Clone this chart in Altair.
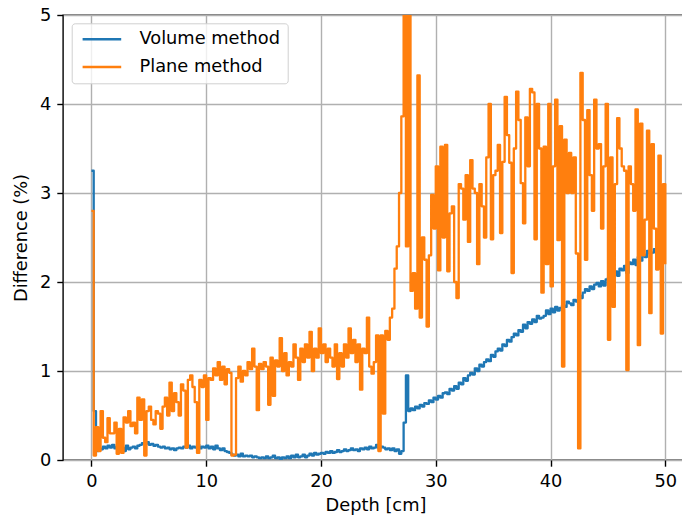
import altair as alt
import pandas as pd

# Depth sampling step (cm)
STEP = 0.2

volume_method = [
    3.25, 0.55, 0.10, 0.13, 0.12, 0.15, 0.13, 0.16, 0.14, 0.17,
    0.13, 0.15, 0.12, 0.14, 0.10, 0.16, 0.12, 0.14, 0.15, 0.13,
    0.16, 0.17, 0.19, 0.18, 0.20, 0.17, 0.18, 0.16, 0.17, 0.15,
    0.14, 0.15, 0.13, 0.14, 0.12, 0.13, 0.11, 0.13, 0.14, 0.13,
    0.15, 0.14, 0.16, 0.13, 0.15, 0.14, 0.17, 0.13, 0.15, 0.14,
    0.16, 0.13, 0.15, 0.12, 0.16, 0.13, 0.11, 0.13, 0.10, 0.09,
    0.08, 0.06, 0.05, 0.06, 0.04, 0.07, 0.04, 0.05, 0.04, 0.05,
    0.03, 0.04, 0.03, 0.02, 0.03, 0.02, 0.04, 0.02, 0.03, 0.05,
    0.02, 0.03, 0.01, 0.03, 0.02, 0.04, 0.02, 0.05, 0.03, 0.06,
    0.03, 0.04, 0.06, 0.03, 0.05, 0.07, 0.05, 0.08, 0.06, 0.07,
    0.08, 0.07, 0.09, 0.08, 0.10, 0.08, 0.09, 0.11, 0.09, 0.10,
    0.12, 0.10, 0.11, 0.13, 0.11, 0.12, 0.10, 0.13, 0.12, 0.14,
    0.12, 0.15, 0.13, 0.14, 0.17, 0.13, 0.15, 0.14, 0.12, 0.13,
    0.11, 0.13, 0.10, 0.12, 0.07, 0.10, 0.42, 0.95, 0.55, 0.58,
    0.56, 0.60, 0.58, 0.62, 0.60, 0.64, 0.63, 0.67, 0.65, 0.70,
    0.68, 0.72, 0.70, 0.75, 0.76, 0.74, 0.80, 0.78, 0.83, 0.80,
    0.87, 0.85, 0.92, 0.89, 0.95, 0.98, 0.96, 1.03, 1.00, 1.07,
    1.05, 1.10, 1.13, 1.11, 1.18, 1.16, 1.22, 1.25, 1.23, 1.30,
    1.28, 1.35, 1.33, 1.38, 1.42, 1.40, 1.46, 1.44, 1.52, 1.48,
    1.55, 1.53, 1.58, 1.55, 1.62, 1.59, 1.60, 1.62, 1.68, 1.64,
    1.70, 1.66, 1.72, 1.68, 1.71, 1.74, 1.72, 1.78, 1.76, 1.74,
    1.80, 1.78, 1.85, 1.82, 1.88, 1.92, 1.90, 1.95, 1.92, 1.97,
    1.99, 1.95, 2.01, 1.96, 2.03, 2.05, 2.01, 2.08, 2.12, 2.07,
    2.15, 2.13, 2.18, 2.10, 2.22, 2.20, 2.25, 2.19, 2.28, 2.24,
    2.31, 2.28, 2.35, 2.32, 2.33, 2.37, 2.35, 2.36, 2.38,
]

plane_method = [
    2.8, 0.05, 0.37, 0.1, 0.55, 0.25, 0.2, 0.47, 0.3, 0.3,
    0.42, 0.07, 0.35, 0.08, 0.48, 0.42, 0.55, 0.38, 0.42, 0.3,
    0.7, 0.45, 0.68, 0.05, 0.55, 0.6, 0.45, 0.4, 0.55, 0.52,
    0.35, 0.6, 0.7, 0.5, 0.87, 0.55, 0.75, 0.65, 0.5, 0.85,
    0.78, 0.14, 0.9, 0.95, 0.82, 0.65, 0.08, 0.9, 0.82, 0.95,
    0.45, 0.92, 0.9, 1.03, 0.95, 1.1, 0.9, 1.05, 0.85, 1.02,
    0.98, 0.05, 0.06, 0.92, 1.05, 0.88, 1.0, 0.95, 1.1, 1.02,
    1.25, 1.05, 0.56, 1.08, 1.02, 1.1, 1.05, 0.62, 1.15, 0.72,
    1.12, 1.05, 1.37, 1.0, 1.2, 0.95, 1.1, 1.05, 1.3, 1.15,
    0.9, 1.25, 1.1, 1.3, 1.15, 1.44, 1.0, 1.25, 1.15, 1.48,
    1.2, 1.3, 1.1, 1.25, 1.15, 1.05, 1.3, 0.91, 1.2, 1.05,
    1.3, 1.15, 1.48, 1.2, 1.35, 1.1, 1.3, 0.79, 1.25, 1.2,
    1.6, 1.05, 0.97, 1.1, 1.4, 0.1, 1.4, 0.52, 1.45, 1.35,
    1.6, 1.7, 2.15, 2.4, 3.0, 3.86, 5.6, 2.4, 5.6, 1.9,
    2.1, 1.7, 4.32, 1.6, 2.5, 2.25, 1.5, 2.3, 2.98, 2.6,
    3.3, 2.13, 3.52, 2.5, 3.54, 2.12, 2.77, 2.85, 2.0, 1.82,
    3.1, 3.05, 2.7, 3.2, 2.45, 3.37, 3.05, 3.0, 2.2, 3.1,
    2.85, 2.5, 3.4, 4.0, 2.48, 3.2, 3.25, 3.54, 2.55, 3.35,
    4.08, 3.65, 3.34, 2.1, 3.5, 4.14, 3.82, 3.11, 2.66, 3.85,
    3.3, 4.17, 4.13, 2.48, 4.0, 3.5, 1.88, 3.52, 2.2, 4.0,
    1.95, 3.3, 4.05, 2.47, 3.75, 1.05, 3.6, 3.0, 3.45, 3.0,
    3.4, 2.32, 0.13, 4.35, 3.82, 2.25, 3.93, 3.2, 2.8, 4.05,
    3.5, 3.55, 2.6, 3.3, 4.0, 1.35, 3.4, 1.72, 3.1, 3.84,
    3.5, 3.3, 3.25, 1.01, 3.3, 3.1, 2.8, 3.94, 1.29, 3.78,
    2.3, 2.7, 3.7, 1.65, 3.55, 2.6, 2.14, 3.42, 1.42, 3.1,
    2.2,
]

series_names = ["Volume method", "Plane method"]
series_colors = ["#1f77b4", "#ff7f0e"]
x_ticks = [0, 10, 20, 30, 40, 50]
y_ticks = [0, 1, 2, 3, 4, 5]

rows = []
for name, vals in zip(series_names, [volume_method, plane_method]):
    for i, v in enumerate(vals):
        rows.append({"depth": round(i * STEP, 2), "value": v, "method": name})
df = pd.DataFrame(rows)

FS = 17.8
color_scale = alt.Scale(domain=series_names, range=series_colors)

x_enc = alt.X(
    "depth:Q",
    scale=alt.Scale(domain=[-2.475, 51.975], nice=False, zero=False),
    axis=alt.Axis(title="Depth [cm]", values=x_ticks, format="d", titlePadding=6),
)
y_enc = alt.Y(
    "value:Q",
    scale=alt.Scale(domain=[0, 5], nice=False),
    axis=alt.Axis(title="Difference (%)", values=y_ticks, format="d", titlePadding=9),
)

legend = alt.Legend(
    title=None,
    orient="none",
    legendX=8.7,
    legendY=8.3,
    symbolType="M-1,0L6.72,0",
    symbolSize=100,
    symbolStrokeWidth=2.5,
    labelOffset=43,
    rowPadding=8.9,
    padding=7,
    fillColor="rgba(255,255,255,0.8)",
    strokeColor="#d0d0d0",
    cornerRadius=3,
    labelFontSize=FS,
    labelFont="DejaVu Sans",
    labelColor="black",
    labelLimit=400,
)

layers = []
for name in series_names:
    layers.append(
        alt.Chart(df)
        .transform_filter(alt.datum.method == name)
        .mark_line(interpolate="step-after", strokeWidth=2.3, clip=True, strokeJoin="round")
        .encode(
            x=x_enc,
            y=y_enc,
            color=alt.Color("method:N", scale=color_scale, legend=legend),
        )
    )

chart = (
    alt.layer(*layers)
    .properties(
        width=625,
        height=445,
        autosize=alt.AutoSizeParams(type="none"),
        padding={"left": 63, "top": 15, "right": -6, "bottom": 61},
    )
    .configure(background="white")
    .configure_view(stroke="black", strokeWidth=1.4)
    .configure_axis(
        grid=True,
        gridColor="#b0b0b0",
        gridWidth=1.4,
        gridOpacity=1,
        domain=False,
        tickColor="black",
        tickSize=6.2,
        tickWidth=1.4,
        labelFont="DejaVu Sans",
        labelFontSize=FS,
        labelColor="black",
        labelPadding=6,
        titleFont="DejaVu Sans",
        titleFontSize=FS,
        titleFontWeight="normal",
        titleColor="black",
    )
)

chart.save("out.html", embed_options={"renderer": "svg", "actions": False})
